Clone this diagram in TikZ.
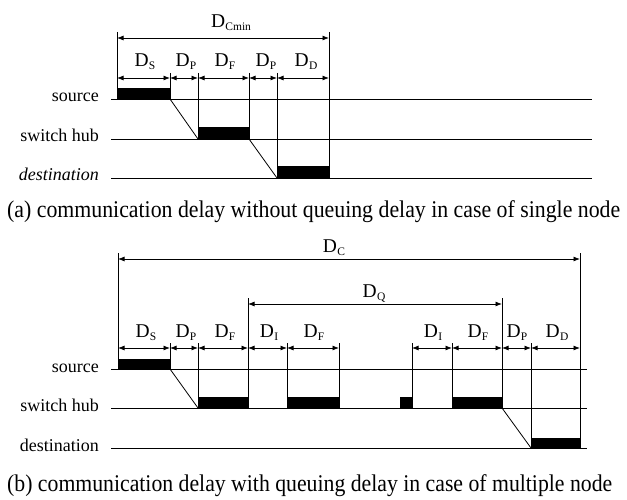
\documentclass[tikz,border=0pt]{standalone}
\usepackage{fontspec}
\setmainfont{Liberation Serif}
\usetikzlibrary{arrows.meta}
\newcommand{\Dlab}[1]{D\kern0.3pt\raisebox{-3pt}{\fontsize{11.5}{11.5}\selectfont #1}}
\begin{document}
\begin{tikzpicture}[x=1pt,y=-1pt,
  tl/.style={line width=0.8pt},
  vl/.style={line width=0.8pt},
  dim/.style={line width=0.8pt,{Latex[length=6.5pt,width=5pt]}-{Latex[length=6.5pt,width=5pt]}},
  pkt/.style={fill=black,draw=black,line width=0.5pt},
  lab/.style={anchor=base east,font=\fontsize{18}{18}\selectfont,inner sep=0pt},
  dl/.style={anchor=base,font=\fontsize{19.5}{19.5}\selectfont,inner sep=0pt},
  captxt/.style={anchor=base west,font=\fontsize{24}{24}\selectfont,inner sep=0pt}]
\useasboundingbox (0,0) rectangle (627,500);

% ---------------- (a) ----------------
\node[lab] (srcA) at (99,102) {source};
\node[lab] (hubA) at (99,142) {switch hub};
\node[lab] (dstA) at (99,181) {\itshape destination};

\draw[tl] (111,99) -- (592,99);
\draw[tl] (111,139) -- (592,139);
\draw[tl] (111,178) -- (592,178);

\fill[pkt] (117,88) rectangle (170,99);
\fill[pkt] (198,127) rectangle (249,139);
\fill[pkt] (277,166) rectangle (329,178);

\draw[vl] (117,32) -- (117,99);
\draw[vl] (170,73) -- (170,99);
\draw[vl] (198,73) -- (198,139);
\draw[vl] (249,73) -- (249,139);
\draw[vl] (277,73) -- (277,178);
\draw[vl] (329,32) -- (329,178);

\draw[vl] (170,99) -- (198,139);
\draw[vl] (249,139) -- (277,178);

\draw[dim] (117,38) -- (329,38);
\draw[dim] (117,78) -- (170,78);
\draw[dim] (170,78) -- (198,78);
\draw[dim] (198,78) -- (249,78);
\draw[dim] (249,78) -- (277,78);
\draw[dim] (277,78) -- (329,78);

\node[dl] (dcmin) at (231,28) {\Dlab{Cmin}};
\node[dl] (dsA) at (145,67) {\Dlab{S}};
\node[dl] (dp1A) at (186,67) {\Dlab{P}};
\node[dl] (dfA) at (225,67) {\Dlab{F}};
\node[dl] (dp2A) at (266,67) {\Dlab{P}};
\node[dl] (ddA) at (306,67) {\Dlab{D}};

\node[captxt] (capA) at (7,218) {\resizebox{613pt}{\height}{(a) communication delay without queuing delay in case of single node}};

% ---------------- (b) ----------------
\node[lab] (srcB) at (99,372) {source};
\node[lab] (hubB) at (99,411) {switch hub};
\node[lab] (dstB) at (99,451) {destination};

\draw[tl] (111,369) -- (587,369);
\draw[tl] (111,408) -- (587,408);
\draw[tl] (111,448) -- (587,448);

\fill[pkt] (118,359) rectangle (170,369);
\fill[pkt] (198,397) rectangle (248,408);
\fill[pkt] (287,397) rectangle (339,408);
\fill[pkt] (400,397) rectangle (412,408);
\fill[pkt] (452,397) rectangle (502,408);
\fill[pkt] (531,438) rectangle (580,448);

\draw[vl] (118,253) -- (118,369);
\draw[vl] (170,343) -- (170,369);
\draw[vl] (198,343) -- (198,408);
\draw[vl] (248,298) -- (248,408);
\draw[vl] (287,343) -- (287,408);
\draw[vl] (339,343) -- (339,408);
\draw[vl] (412,343) -- (412,408);
\draw[vl] (452,343) -- (452,408);
\draw[vl] (502,298) -- (502,408);
\draw[vl] (531,343) -- (531,448);
\draw[vl] (580,253) -- (580,448);

\draw[vl] (170,369) -- (198,408);
\draw[vl] (502,408) -- (531,448);

\draw[dim] (118,259) -- (580,259);
\draw[dim] (248,304) -- (502,304);
\draw[dim] (118,348) -- (170,348);
\draw[dim] (170,348) -- (198,348);
\draw[dim] (198,348) -- (248,348);
\draw[dim] (248,348) -- (287,348);
\draw[dim] (287,348) -- (339,348);
\draw[dim] (412,348) -- (452,348);
\draw[dim] (452,348) -- (502,348);
\draw[dim] (502,348) -- (531,348);
\draw[dim] (531,348) -- (580,348);

\node[dl] (dc) at (334,252) {\Dlab{C}};
\node[dl] (dq) at (374,297) {\Dlab{Q}};
\node[dl] (dsB) at (146,337) {\Dlab{S}};
\node[dl] (dp1B) at (186,337) {\Dlab{P}};
\node[dl] (df1B) at (225,337) {\Dlab{F}};
\node[dl] (di1B) at (269,337) {\Dlab{I}};
\node[dl] (df2B) at (314,337) {\Dlab{F}};
\node[dl] (di2B) at (433,337) {\Dlab{I}};
\node[dl] (df3B) at (478,337) {\Dlab{F}};
\node[dl] (dp2B) at (517,337) {\Dlab{P}};
\node[dl] (ddB) at (557,337) {\Dlab{D}};

\node[captxt] (capB) at (7,491) {\resizebox{605pt}{\height}{(b) communication delay with queuing delay in case of multiple node}};
\end{tikzpicture}
\end{document}
